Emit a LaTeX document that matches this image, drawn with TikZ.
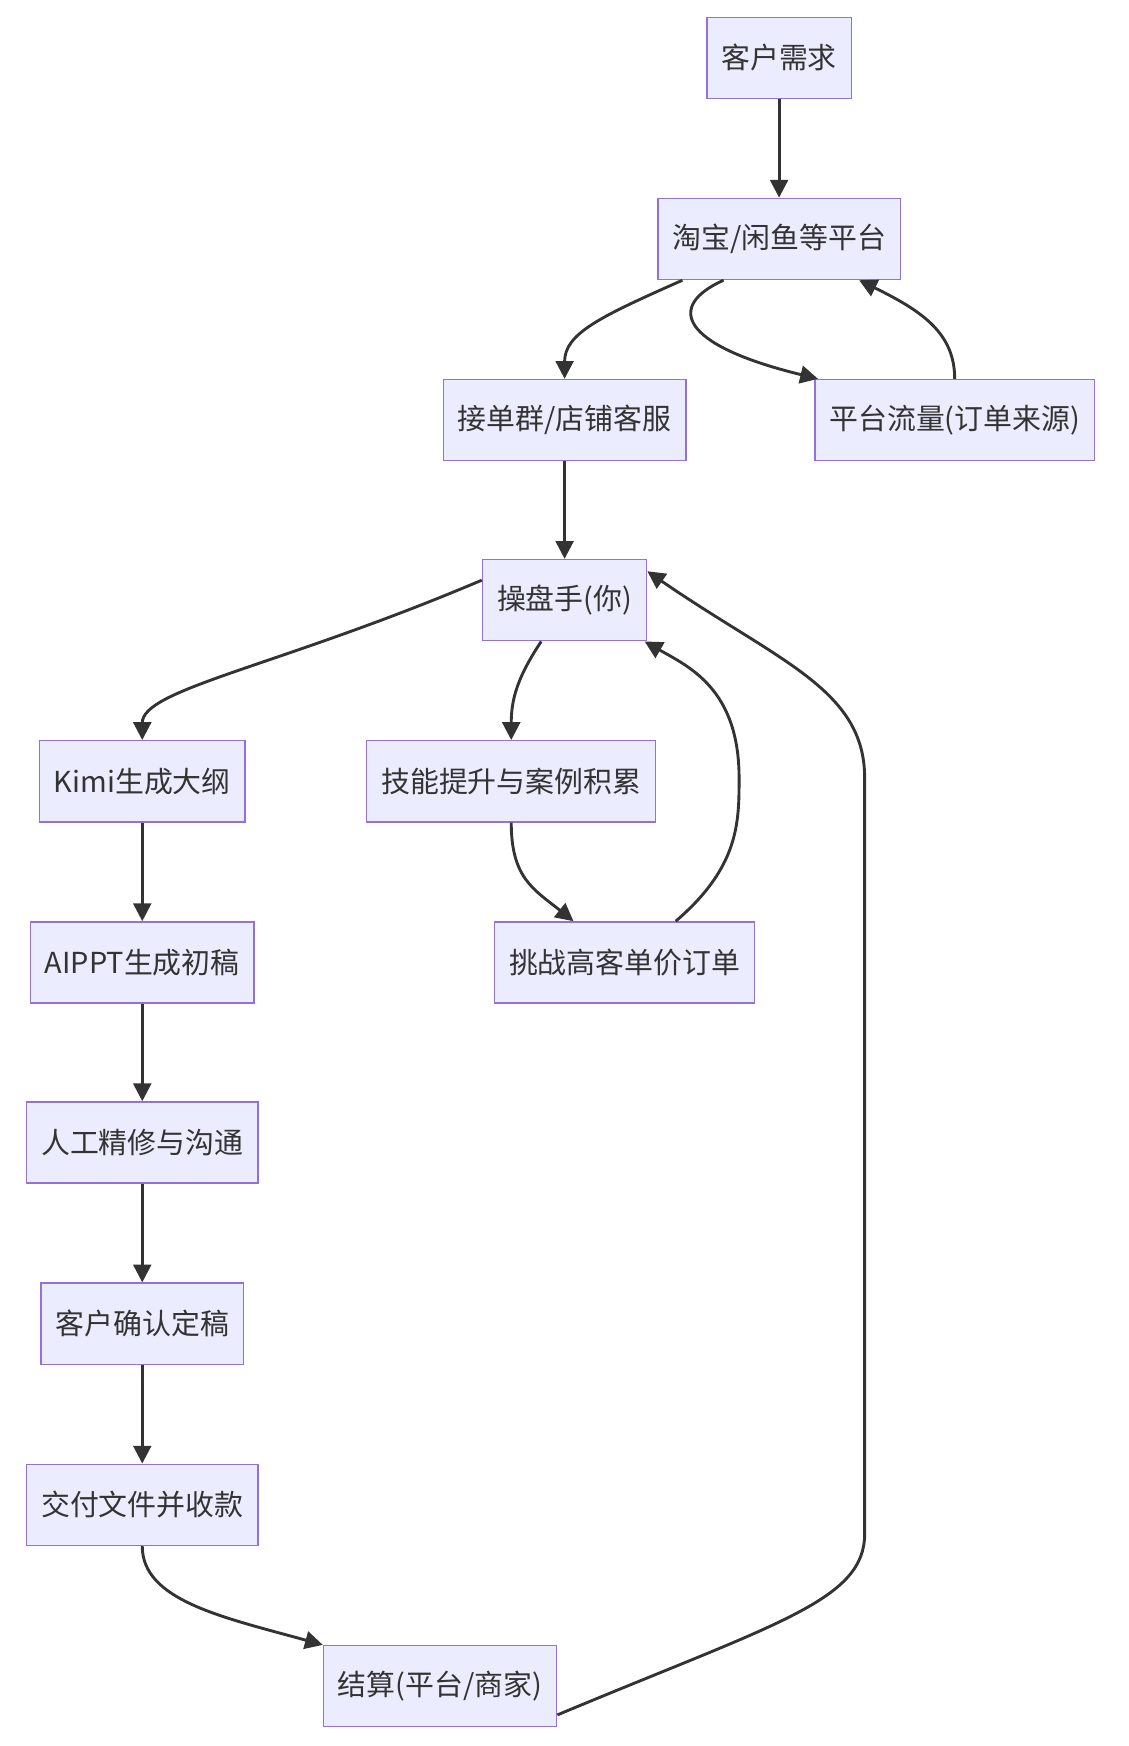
\documentclass[tikz,border=0pt]{standalone}
\usepackage{fontspec}
\setmainfont{Noto Sans CJK SC}
\usetikzlibrary{arrows.meta,calc}
\definecolor{nfill}{HTML}{ECECFF}
\definecolor{nline}{HTML}{9370DB}
\definecolor{eline}{HTML}{333333}
\begin{document}
\begin{tikzpicture}[x=1pt,y=-1pt,
 box/.style={draw=nline,fill=nfill,line width=1.3pt,minimum height=73pt,inner xsep=13pt,font=\fontsize{26}{30}\selectfont,text=eline},
 e/.style={draw=eline,line width=2.6pt,-{Triangle[length=16pt,width=16pt]}}]
\useasboundingbox (0,0) rectangle (1015,1571);
\node[box] (a) at (701,52) {客户需求};
\node[box] (b) at (701,215) {淘宝/闲鱼等平台};
\node[box] (c) at (508,378) {接单群/店铺客服};
\node[box] (d) at (859,378) {平台流量(订单来源)};
\node[box] (p) at (508,540) {操盘手(你)};
\node[box] (k) at (128,703) {Kimi生成大纲};
\node[box] (s) at (460,703) {技能提升与案例积累};
\node[box] (g) at (128,866) {AIPPT生成初稿};
\node[box] (h) at (562,866) {挑战高客单价订单};
\node[box] (r) at (128,1028) {人工精修与沟通};
\node[box] (q) at (128,1191) {客户确认定稿};
\node[box] (j) at (128,1354) {交付文件并收款};
\node[box] (z) at (396,1517) {结算(平台/商家)};
\draw[e] (a) -- (b);
\draw[e] ([xshift=-87pt]b.south) .. controls (540,285) and (508,300) .. (c.north);
\draw[e] ([xshift=-50pt]b.south) .. controls (600,275) and (610,310) .. ([xshift=-123pt]d.north);
\draw[e] (d.north) .. controls (859,300) and (830,280) .. ([xshift=72pt]b.south);
\draw[e] (c) -- (p);
\draw[e] ([yshift=18pt]p.west) .. controls (250,600) and (128,620) .. (k.north);
\draw[e] ([xshift=-21pt]p.south) .. controls (465,610) and (460,630) .. (s.north);
\draw[e] (s.south) .. controls (460,790) and (480,800) .. ([xshift=-46pt]h.north);
\draw[e] ([xshift=46pt]h.north) .. controls (665,780) and (665,740) .. (665,700) .. controls (665,620) and (620,600) .. ([xshift=72pt]p.south);
\draw[e] (k) -- (g);
\draw[e] (g) -- (r);
\draw[e] (r) -- (q);
\draw[e] (q) -- (j);
\draw[e] (j.south) .. controls (128,1440) and (200,1455) .. (z.west |- 0,1480);
\draw[e] ([yshift=-26pt]z.east) .. controls (700,1460) and (778,1440) .. (778,1380) -- (778,700) .. controls (778,620) and (700,595) .. ([yshift=26pt]p.east);
\end{tikzpicture}
\end{document}
